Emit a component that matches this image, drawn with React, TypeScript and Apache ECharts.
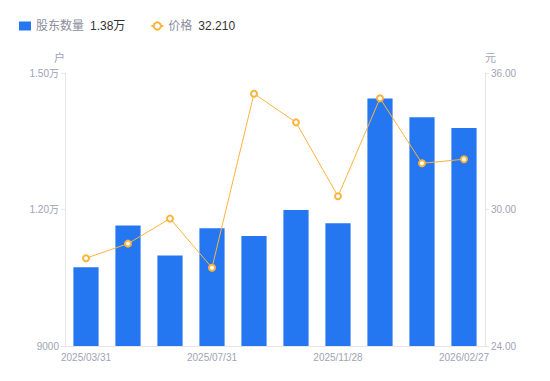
import React, { useEffect, useRef } from "react";
import * as echarts from "echarts";

const categories = [
  "2025/03/31", "2025/04/30", "2025/06/30", "2025/07/31", "2025/08/29",
  "2025/09/30", "2025/11/28", "2025/12/31", "2026/01/30", "2026/02/27",
];
const holders = [10730, 11650, 10990, 11590, 11420, 11990, 11700, 14440, 14030, 13790];
const prices = [27.86, 28.5, 29.6, 27.44, 35.09, 33.83, 30.58, 34.89, 32.03, 32.21];
const leftTicks = { min: 9000, max: 15000, interval: 3000 };
const rightTicks = { min: 24, max: 36, interval: 6 };

const fmtHolders = (v: number) => (v >= 10000 ? (v / 10000).toFixed(2) + "万" : String(v));

export default function App() {
  const ref = useRef<HTMLDivElement>(null);
  useEffect(() => {
    document.body.style.margin = "0";
    const chart = echarts.init(ref.current!, undefined, { renderer: "svg" });
    const lastH = holders[holders.length - 1];
    const lastP = prices[prices.length - 1];
    chart.setOption({
      animation: false,
      textStyle: { fontFamily: "'Liberation Sans', 'Noto Sans CJK SC', sans-serif" },
      legend: {
        left: 14,
        top: 15,
        itemGap: 25,
        itemWidth: 12,
        itemHeight: 9,
        data: [
          { name: "股东数量", icon: "rect" },
          { name: "价格" },
        ],
        formatter: (name: string) =>
          name === "股东数量"
            ? `{n|${name}}{v|${(lastH / 10000).toFixed(2)}万}`
            : `{n|${name}}{v|${lastP.toFixed(3)}}`,
        textStyle: {
          rich: {
            n: { color: "#8a8d9e", fontSize: 12, padding: [0, 6, 0, 0] },
            v: { color: "#333", fontSize: 12 },
          },
        },
      },
      grid: { left: 65, right: 65, top: 73, bottom: 35 },
      xAxis: {
        type: "category",
        data: categories,
        axisLine: { lineStyle: { color: "#e6e6e6" } },
        axisTick: { show: false },
        axisLabel: { color: "#a0a3b5", fontSize: 10, interval: 2, margin: 6 },
      },
      yAxis: [
        {
          type: "value",
          name: "户",
          nameGap: 10,
          nameTextStyle: { color: "#a0a3b5", fontSize: 11, align: "right" },
          ...leftTicks,
          splitLine: { show: false },
          axisLine: { show: true, lineStyle: { color: "#e6e6e6" } },
          axisTick: { show: true, length: 4, lineStyle: { color: "#e6e6e6" } },
          axisLabel: { color: "#a0a3b5", fontSize: 10, margin: 6, formatter: fmtHolders },
        },
        {
          type: "value",
          name: "元",
          nameGap: 10,
          nameTextStyle: { color: "#a0a3b5", fontSize: 11, align: "left" },
          ...rightTicks,
          splitLine: { show: false },
          axisLine: { show: true, lineStyle: { color: "#e6e6e6" } },
          axisTick: { show: true, length: 4, lineStyle: { color: "#e6e6e6" } },
          axisLabel: { color: "#a0a3b5", fontSize: 10, margin: 6, formatter: (v: number) => v.toFixed(2) },
        },
      ],
      series: [
        {
          name: "股东数量",
          type: "bar",
          data: holders,
          barWidth: "60%",
          itemStyle: { color: "#2577f1" },
        },
        {
          name: "价格",
          type: "line",
          yAxisIndex: 1,
          data: prices,
          symbol: "emptyCircle",
          symbolSize: 6,
          lineStyle: { color: "#fbb43c", width: 1 },
          itemStyle: { color: "#fbb43c", borderWidth: 2 },
        },
      ],
    });
    return () => chart.dispose();
  }, []);
  return <div ref={ref} style={{ width: 550, height: 381 }} />;
}
